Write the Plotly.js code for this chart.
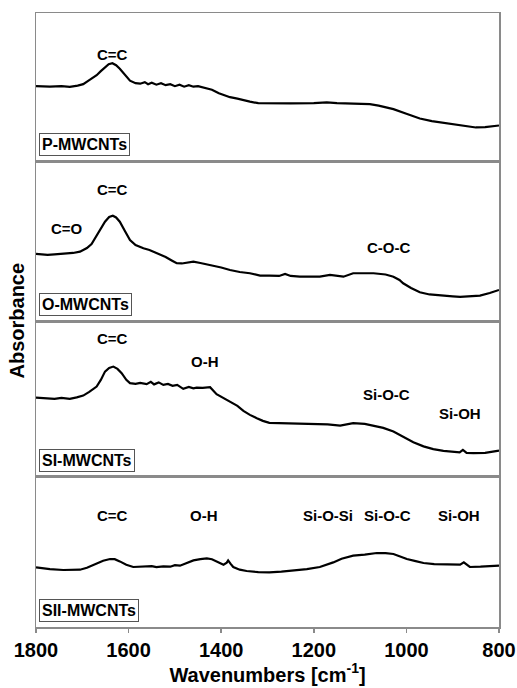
<!DOCTYPE html>
<html>
<head>
<meta charset="utf-8">
<script src="https://cdn.plot.ly/plotly-3.0.1.min.js"></script>
<style>html,body{margin:0;padding:0;background:#fff;}#chart{width:517px;height:688px;}</style>
</head>
<body>
<div id="chart"></div>
<script>
// ---- Data (absorbance in arbitrary units, offset per panel) ----
const wnP = [1800,1770,1745,1727,1710,1698,1685,1669,1660,1651,1643,1635,1627,1619,1608,1597,1585,1575,1565,1558,1550,1540,1530,1520,1510,1500,1490,1480,1470,1460,1450,1440,1430,1420,1405,1390,1381,1365,1350,1338,1320,1295,1250,1200,1172,1150,1100,1079,1060,1045,1028,1000,971,945,921,895,870,850,830,815,800];
const absP = [0.75,0.745,0.75,0.743,0.755,0.77,0.81,0.86,0.90,0.94,0.97,0.98,0.96,0.925,0.86,0.805,0.78,0.775,0.79,0.77,0.785,0.765,0.78,0.76,0.77,0.75,0.765,0.745,0.76,0.745,0.75,0.74,0.73,0.715,0.68,0.655,0.64,0.625,0.605,0.595,0.58,0.577,0.578,0.58,0.587,0.58,0.575,0.57,0.555,0.54,0.52,0.475,0.427,0.40,0.383,0.365,0.35,0.337,0.34,0.35,0.357];

const wnO = [1800,1775,1760,1741,1720,1705,1690,1680,1669,1660,1651,1642,1634,1627,1619,1608,1597,1585,1568,1555,1539,1520,1505,1496,1485,1470,1460,1445,1424,1400,1381,1360,1338,1316,1296,1275,1262,1250,1230,1187,1165,1150,1136,1115,1095,1071,1045,1028,1015,1007,990,971,950,927,900,884,860,841,820,800];
const absO = [0.675,0.665,0.67,0.675,0.685,0.698,0.735,0.775,0.865,0.935,0.998,1.045,1.058,1.04,0.998,0.905,0.815,0.765,0.732,0.715,0.682,0.645,0.605,0.582,0.58,0.595,0.598,0.585,0.565,0.54,0.515,0.495,0.482,0.458,0.458,0.455,0.475,0.455,0.448,0.448,0.465,0.455,0.448,0.482,0.48,0.482,0.47,0.448,0.415,0.382,0.335,0.292,0.27,0.258,0.25,0.245,0.25,0.258,0.285,0.315];

const wnSI = [1800,1780,1760,1745,1727,1712,1698,1685,1669,1660,1651,1642,1633,1624,1615,1605,1597,1585,1575,1561,1552,1545,1535,1525,1515,1505,1495,1482,1470,1460,1453,1440,1424,1410,1395,1381,1365,1352,1338,1323,1310,1296,1273,1250,1208,1170,1143,1115,1090,1071,1050,1028,1005,985,963,942,920,899,885,878,870,855,830,810,800];
const absSI = [0.79,0.782,0.777,0.787,0.777,0.792,0.81,0.847,0.90,0.967,1.05,1.087,1.10,1.077,1.034,0.967,0.934,0.927,0.937,0.924,0.947,0.922,0.942,0.917,0.927,0.907,0.917,0.877,0.897,0.882,0.89,0.887,0.894,0.824,0.787,0.75,0.707,0.657,0.617,0.584,0.557,0.537,0.534,0.532,0.527,0.522,0.51,0.534,0.527,0.51,0.487,0.45,0.397,0.344,0.302,0.274,0.257,0.244,0.242,0.267,0.237,0.234,0.237,0.252,0.26];

const wnSII = [1800,1770,1741,1720,1705,1690,1680,1669,1655,1640,1630,1619,1605,1590,1570,1550,1540,1525,1510,1500,1489,1475,1460,1445,1431,1420,1410,1395,1388,1385,1380,1374,1360,1345,1320,1296,1270,1244,1215,1187,1170,1158,1140,1115,1090,1064,1045,1028,1015,999,980,963,940,913,884,876,868,863,840,812,800];
const absSII = [0.596,0.578,0.57,0.568,0.573,0.593,0.613,0.64,0.663,0.68,0.678,0.656,0.623,0.60,0.603,0.608,0.598,0.606,0.603,0.618,0.613,0.638,0.666,0.678,0.686,0.678,0.656,0.623,0.643,0.666,0.633,0.60,0.573,0.56,0.548,0.546,0.553,0.566,0.578,0.60,0.623,0.646,0.683,0.713,0.723,0.74,0.738,0.73,0.708,0.68,0.658,0.64,0.628,0.623,0.623,0.646,0.613,0.60,0.603,0.606,0.613];

const sampleNames = ['P-MWCNTs','O-MWCNTs','SI-MWCNTs','SII-MWCNTs'];
const tickLabels = ['1800','1600','1400','1200','1000','800'];
const tickValues = [1800,1600,1400,1200,1000,800];

// band labels: [panel index, wavenumber, level, text]
const bandPanel = [0,1,1,1,2,2,2,2,3,3,3,3,3];
const bandWn    = [1635,1635,1734,1039,1635,1435,1043,884,1635,1437,1169,1041,886];
const bandLevel = [1.07,1.32,0.93,0.74,1.377,1.15,0.817,0.627,1.113,1.113,1.113,1.113,1.113];
const bandText  = ['C=C','C=C','C=O','C-O-C','C=C','O-H','Si-O-C','Si-OH','C=C','O-H','Si-O-Si','Si-O-C','Si-OH'];

// ---- Layout ----
const FONT = 'Liberation Sans, Arial, sans-serif';
const series = [[wnP,absP],[wnO,absO],[wnSI,absSI],[wnSII,absSII]];
const domains = [[0.7587,1],[0.4976,0.7587],[0.245,0.4976],[0,0.245]];
const yRanges = [[0,1.482],[0,1.603],[0,1.551],[0,1.504]];
const frameColor = '#8a8a8a';

const traces = series.map((s,i)=>({
  x: s[0], y: s[1], type:'scatter', mode:'lines',
  xaxis: i===0?'x':'x'+(i+1), yaxis: i===0?'y':'y'+(i+1),
  line:{color:'#000', width:2.2}, hoverinfo:'skip', showlegend:false
}));

const layout = {
  width:517, height:688,
  margin:{l:36, r:18, t:13, b:61},
  paper_bgcolor:'#fff', plot_bgcolor:'#fff',
  font:{family:FONT, color:'#000'},
  annotations:[], showlegend:false
};

for (let i=0;i<4;i++){
  const xs = i===0?'xaxis':'xaxis'+(i+1);
  const ys = i===0?'yaxis':'yaxis'+(i+1);
  const isBottom = i===3;
  layout[xs] = {
    anchor: i===0?'y':'y'+(i+1),
    domain:[0,1], range:[1800,800], autorange:false,
    showgrid:false, zeroline:false,
    showline:true, mirror:true, linecolor:frameColor, linewidth:1.5,
    tickvals: tickValues, ticktext: tickLabels,
    showticklabels: isBottom, ticks: isBottom?'outside':'', ticklen:4, tickcolor:frameColor, tickwidth:1.5,
    tickfont:{family:FONT, size:20, weight:'bold', color:'#000'}
  };
  if (isBottom){
    layout[xs].title = {text:'Wavenumbers [cm<sup>-1</sup>]', font:{family:FONT, size:20, weight:'bold', color:'#000'}, standoff:2};
  }
  layout[ys] = {
    anchor: i===0?'x':'x'+(i+1),
    domain: domains[i], range: yRanges[i], autorange:false,
    showgrid:false, zeroline:false, showticklabels:false, ticks:'',
    showline:true, mirror:true, linecolor:frameColor, linewidth:1.5
  };
  layout.annotations.push({
    text: sampleNames[i], xref:'paper', x:0.0065, xanchor:'left',
    yref: i===0?'y':'y'+(i+1), y:0.05, yanchor:'bottom',
    showarrow:false, bordercolor:'#555', borderwidth:1, borderpad:2, bgcolor:'#fff',
    font:{family:FONT, size:16, weight:'bold', color:'#000'}
  });
}

for (let k=0;k<bandText.length;k++){
  const p = bandPanel[k];
  layout.annotations.push({
    text: bandText[k], xref: p===0?'x':'x'+(p+1), yref: p===0?'y':'y'+(p+1),
    x: bandWn[k], y: bandLevel[k], xanchor:'center', yanchor:'middle', showarrow:false,
    font:{family:FONT, size:15, weight:'bold', color:'#000'}
  });
}

layout.annotations.push({
  text:'Absorbance', xref:'paper', yref:'paper', x:-0.04, y:0.5,
  xanchor:'center', yanchor:'middle', textangle:-90, showarrow:false,
  font:{family:FONT, size:20, weight:'bold', color:'#000'}
});

Plotly.newPlot('chart', traces, layout, {staticPlot:true, displayModeBar:false});
</script>
</body>
</html>
